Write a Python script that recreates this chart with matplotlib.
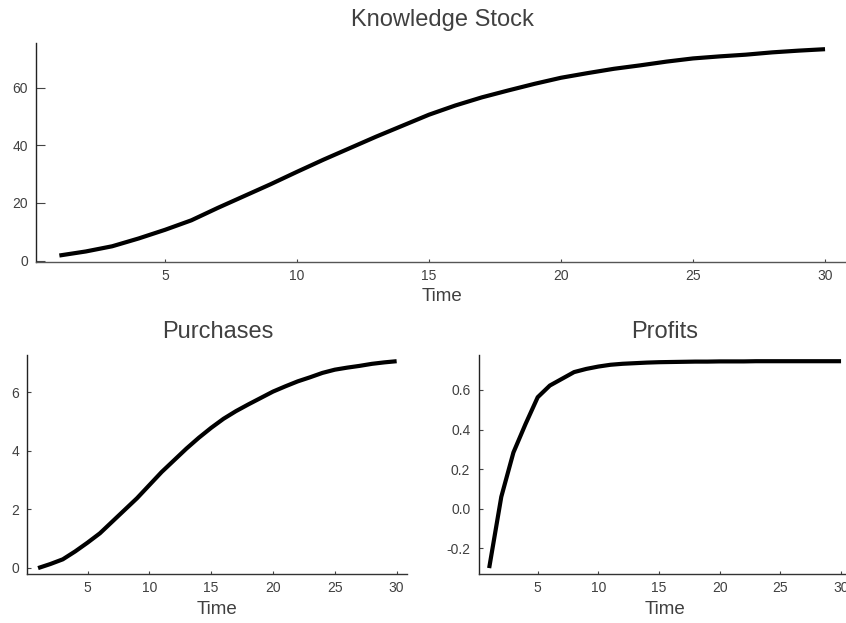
import matplotlib
matplotlib.use("Agg")
import matplotlib.pyplot as plt
from matplotlib.ticker import FormatStrFormatter, FixedLocator

plt.rcParams['font.family'] = ['Liberation Sans', 'DejaVu Sans']
plt.rcParams['axes.unicode_minus'] = False

time = list(range(1, 31))
knowledge = [1.8, 3.2, 5.0, 7.7, 10.7, 14.0, 18.3, 22.4, 26.5, 30.8,
             35.0, 39.0, 43.0, 46.8, 50.6, 53.8, 56.6, 59.0, 61.3, 63.4,
             65.0, 66.5, 67.7, 69.0, 70.1, 70.8, 71.4, 72.2, 72.8, 73.3]
purchases = [-0.02, 0.12, 0.28, 0.55, 0.85, 1.17, 1.57, 1.97, 2.37, 2.82,
             3.27, 3.67, 4.07, 4.44, 4.78, 5.09, 5.35, 5.58, 5.80, 6.02,
             6.20, 6.37, 6.51, 6.66, 6.77, 6.84, 6.90, 6.97, 7.02, 7.06]
profits = [-0.30, 0.06, 0.284, 0.428, 0.563, 0.622, 0.656, 0.690, 0.706, 0.718,
           0.727, 0.732, 0.735, 0.738, 0.740, 0.741, 0.742, 0.743, 0.743, 0.744,
           0.744, 0.744, 0.745, 0.745, 0.745, 0.745, 0.745, 0.745, 0.745, 0.745]

xticks = [5, 10, 15, 20, 25, 30]
k_yticks = [0, 20, 40, 60]
p_yticks = [0, 2, 4, 6]
pr_yticks = [-0.2, 0.0, 0.2, 0.4, 0.6]

W, H = 846, 623
fig = plt.figure(figsize=(W / 100, H / 100), dpi=100)

def ax_at(l, r, t, b):
    return fig.add_axes([l / W, 1 - b / H, (r - l) / W, (b - t) / H])

ax1 = ax_at(36.4, 848, 43, 261.7)
ax2 = ax_at(27.3, 407.4, 355, 574.3)
ax3 = ax_at(478.6, 851.6, 355, 574.3)

TXT = '#404040'

def style(ax, x, y, title, yticks, ylen, fmt=None):
    ax.plot(x, y, color='black', lw=3, solid_capstyle='butt', solid_joinstyle='round')
    lo, hi = min(y), max(y)
    pad = 0.03 * (hi - lo)
    ax.set_ylim(lo - pad, hi + pad)
    ax.set_xlim(1 - 0.03 * 29, 30 + 0.03 * 29)
    ax.set_title(title, fontsize=17, color=TXT, pad=12)
    ax.set_xlabel('Time', fontsize=13.5, color=TXT, labelpad=4)
    ax.xaxis.set_major_locator(FixedLocator(xticks))
    ax.yaxis.set_major_locator(FixedLocator(yticks))
    if fmt:
        ax.yaxis.set_major_formatter(FormatStrFormatter(fmt))
    for s in ['top', 'right']:
        ax.spines[s].set_visible(False)
    ax.spines['left'].set_color('#222222')
    ax.spines['bottom'].set_color('#333333')
    ax.spines['left'].set_linewidth(1.0)
    ax.spines['bottom'].set_linewidth(1.0)
    ax.tick_params(axis='x', direction='in', length=2.2, width=0.8, color='#444444',
                   labelsize=10, labelcolor=TXT, pad=5)
    ax.tick_params(axis='y', direction='in', length=ylen, width=0.8, color='#444444',
                   labelsize=10, labelcolor=TXT, pad=6)

style(ax1, time, knowledge, 'Knowledge Stock', k_yticks, 6.5)
ax1.spines['bottom'].set_color('#555555')
style(ax2, time, purchases, 'Purchases', p_yticks, 3)
style(ax3, time, profits, 'Profits', pr_yticks, 3, '%.1f')

fig.savefig('out.png', dpi=100)
